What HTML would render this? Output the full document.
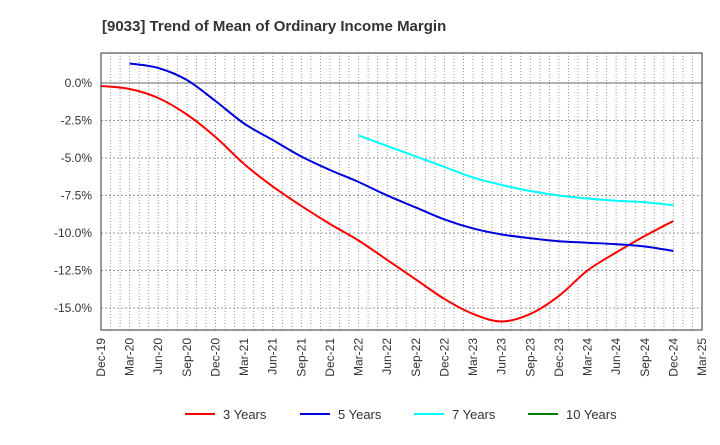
<!DOCTYPE html>
<html><head><meta charset="utf-8"><style>
body{margin:0;background:#fff;font-family:"Liberation Sans",sans-serif;}
</style></head><body>
<svg id="c" width="720" height="440" xmlns="http://www.w3.org/2000/svg">
<text x="102" y="31" font-size="15" font-weight="bold" fill="#333">[9033]  Trend of Mean of Ordinary Income Margin</text>
<g id="grid"></g><g id="series"></g><g id="axes"></g><g id="legend"></g>
</svg>
<script>
const xLabels=["Dec-19","Mar-20","Jun-20","Sep-20","Dec-20","Mar-21","Jun-21","Sep-21","Dec-21","Mar-22","Jun-22","Sep-22","Dec-22","Mar-23","Jun-23","Sep-23","Dec-23","Mar-24","Jun-24","Sep-24","Dec-24","Mar-25"];
const yTicks=[0,-2.5,-5,-7.5,-10,-12.5,-15];
const yTickLabels=["0.0%","-2.5%","-5.0%","-7.5%","-10.0%","-12.5%","-15.0%"];
const s3=[-0.2,-0.4,-1.0,-2.1,-3.6,-5.4,-6.9,-8.2,-9.4,-10.5,-11.8,-13.1,-14.4,-15.4,-15.9,-15.4,-14.2,-12.5,-11.3,-10.2,-9.2];
const s3Start=0;
const s5=[1.3,1.0,0.2,-1.2,-2.7,-3.8,-4.9,-5.8,-6.6,-7.5,-8.3,-9.1,-9.7,-10.1,-10.35,-10.55,-10.65,-10.75,-10.9,-11.2];
const s5Start=1;
const s7=[-3.5,-4.2,-4.9,-5.6,-6.3,-6.8,-7.2,-7.5,-7.7,-7.85,-7.95,-8.15];
const s7Start=9;
const s10=[];
const s10Start=0;
const L=101,R=702,T=53,B=330,yMax=2,yMin=-16.47;
const NS="http://www.w3.org/2000/svg";
const xq=i=>L+(R-L)*i/21;
const xm=m=>L+(R-L)*m/63;
const y=v=>T+(yMax-v)/(yMax-yMin)*(B-T);
function mk(t,a,p){const e=document.createElementNS(NS,t);for(const k in a)e.setAttribute(k,a[k]);p.appendChild(e);return e;}
const g=document.getElementById('grid'),ax=document.getElementById('axes'),se=document.getElementById('series'),lg=document.getElementById('legend');
for(let m=1;m<63;m++){const l=mk('line',{x1:xm(m),x2:xm(m),y1:T,y2:B,stroke:'#999','stroke-width':1,'stroke-dasharray':'1,2'},g);

}
yTicks.forEach((v,i)=>{const l=mk('line',{x1:L,x2:R,y1:y(v),y2:y(v),stroke:v===0?'#666':'#999','stroke-width':1,'stroke-dasharray':v===0?'none':'2,2'},g);


const t=mk('text',{x:L-9,y:y(v)+4,'text-anchor':'end','font-size':12,fill:'#333'},ax);t.textContent=yTickLabels[i];

});
const fr=mk('rect',{x:L,y:T,width:R-L,height:B-T,fill:'none',stroke:'#333','stroke-width':1},ax);


xLabels.forEach((s,i)=>{const t=mk('text',{transform:`translate(${xq(i)+4},${B+8}) rotate(-90)`,'text-anchor':'end','font-size':12,fill:'#333'},ax);t.textContent=s;

});
function path(vals,st){const p=vals.map((v,i)=>[xq(i+st),y(v)]);if(p.length<2)return '';
let d=`M${p[0][0]},${p[0][1]}`;for(let i=0;i<p.length-1;i++){const p0=p[i-1]||p[i],p1=p[i],p2=p[i+1],p3=p[i+2]||p2;
d+=` C${p1[0]+(p2[0]-p0[0])/6},${p1[1]+(p2[1]-p0[1])/6} ${p2[0]-(p3[0]-p1[0])/6},${p2[1]-(p3[1]-p1[1])/6} ${p2[0]},${p2[1]}`;}return d;}
const series=[[s3,s3Start,'#ff0000','3 Years','series-3-years'],[s5,s5Start,'#0000dd','5 Years','series-5-years'],[s7,s7Start,'#00ffff','7 Years','series-7-years'],[s10,s10Start,'#008000','10 Years','series-10-years']];
const lx=[185,300,414,528];
series.forEach((s,i)=>{const d=path(s[0],s[1]);if(d){const p=mk('path',{d:d,fill:'none',stroke:s[2],'stroke-width':2},se);

}
const ln=mk('line',{x1:lx[i],x2:lx[i]+30,y1:414,y2:414,stroke:s[2],'stroke-width':2},lg);


const t=mk('text',{x:lx[i]+38,y:419,'font-size':13,fill:'#333'},lg);t.textContent=s[3];

});
</script>
</body></html>
